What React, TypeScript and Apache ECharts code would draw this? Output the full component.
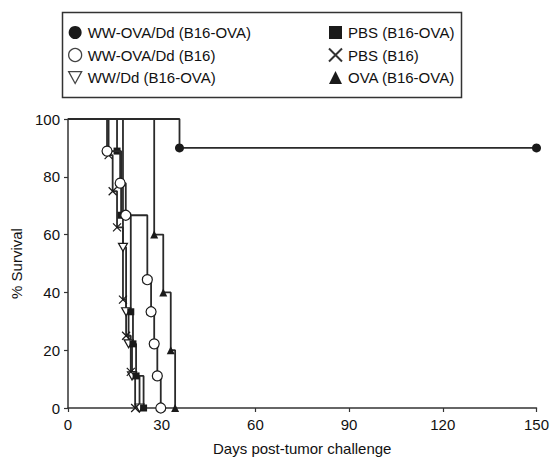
import React, { useEffect, useRef } from "react";
import * as echarts from "echarts";

// ---- data (days, % survival) ----
const wwOvaB16OvaDays = [0, 35.7, 150];
const wwOvaB16OvaSurv = [100, 90, 90];

const wwOvaB16Days = [0, 12.5, 16.7, 18.5, 25.4, 26.6, 27.6, 28.6, 29.7];
const wwOvaB16Surv = [100, 88.9, 77.8, 66.7, 44.4, 33.3, 22.2, 11.1, 0];

const wwDdDays = [0, 17.6, 18.6, 19.4, 20.5, 22.9];
const wwDdSurv = [100, 55.6, 33.3, 22.2, 11.1, 0];

const pbsB16OvaDays = [0, 15.7, 17.0, 20.1, 20.8, 21.8, 24.2];
const pbsB16OvaSurv = [100, 88.9, 66.7, 33.3, 22.2, 11.1, 0];

const pbsB16Days = [0, 13.0, 14.3, 15.7, 17.6, 18.6, 20.1, 21.5];
const pbsB16Surv = [100, 87.5, 75, 62.5, 37.5, 25, 12.5, 0];

const ovaDays = [0, 27.6, 30.5, 32.9, 34.3];
const ovaSurv = [100, 60, 40, 20, 0];

const seriesNames = [
  "WW-OVA/Dd (B16-OVA)",
  "WW-OVA/Dd (B16)",
  "WW/Dd (B16-OVA)",
  "PBS (B16-OVA)",
  "PBS (B16)",
  "OVA (B16-OVA)",
];

const xTicks = { min: 0, max: 150, interval: 30 };
const yTicks = { min: 0, max: 100, interval: 20 };

const FONT = "'Liberation Sans', Arial, Helvetica, sans-serif";
const INK = "#1a1a1a";
const LINE = "#2a2a2a";
const FS = 15;

const X_PATH = "path://M0,0L10,10M10,0L0,10";
const INV_TRI = "path://M0,0L12,0L6,11Z";

function toData(days: number[], surv: number[]) {
  return days.map((d, i) =>
    i === 0 ? { value: [d, surv[i]], symbol: "none" } : { value: [d, surv[i]] }
  );
}

export default function App() {
  const ref = useRef<HTMLDivElement>(null);

  useEffect(() => {
    if (!ref.current) return;
    const chart = echarts.init(ref.current, undefined, { renderer: "svg" });

    const base = (name: string, days: number[], surv: number[]) => ({
      name,
      type: "line",
      step: "end",
      data: toData(days, surv),
      clip: false,
      lineStyle: { color: LINE, width: 1.8 },
      emphasis: { disabled: true },
      z: 3,
    });

    const series: any[] = [
      {
        ...base(seriesNames[0], wwOvaB16OvaDays, wwOvaB16OvaSurv),
        symbol: "circle",
        symbolSize: 9,
        itemStyle: { color: INK },
      },
      {
        ...base(seriesNames[1], wwOvaB16Days, wwOvaB16Surv),
        symbol: "circle",
        symbolSize: 10,
        itemStyle: { color: "#fff", borderColor: INK, borderWidth: 1.2 },
        z: 4,
      },
      {
        ...base(seriesNames[2], wwDdDays, wwDdSurv),
        symbol: INV_TRI,
        symbolSize: [9, 8],
        itemStyle: { color: "#fff", borderColor: INK, borderWidth: 1.2 },
      },
      {
        ...base(seriesNames[3], pbsB16OvaDays, pbsB16OvaSurv),
        symbol: "rect",
        symbolSize: 7,
        itemStyle: { color: INK },
      },
      {
        ...base(seriesNames[4], pbsB16Days, pbsB16Surv),
        symbol: X_PATH,
        symbolSize: 8,
        itemStyle: { color: INK, borderColor: INK, borderWidth: 1.2 },
      },
      {
        ...base(seriesNames[5], ovaDays, ovaSurv),
        symbol: "triangle",
        symbolSize: 8,
        itemStyle: { color: INK },
      },
    ];

    const legendText = { fontSize: FS, color: "#111", fontFamily: FONT, padding: [0, 0, 0, 1] };

    const legendCommon = {
      orient: "vertical",
      top: 25,
      padding: 0,
      itemWidth: 13,
      itemHeight: 13,
      itemGap: 7.5,
      selectedMode: false,
      textStyle: legendText,
    };

    const option: any = {
      animation: false,
      backgroundColor: "#fff",
      grid: { left: 68, right: 14, top: 119, bottom: 47 },
      legend: [
        {
          ...legendCommon,
          left: 68,
          data: [
            { name: seriesNames[0], icon: "circle", itemStyle: { color: INK, borderWidth: 0 } },
            {
              name: seriesNames[1],
              icon: "circle",
              itemStyle: { color: "#fff", borderColor: "#444", borderWidth: 1.3 },
            },
            {
              name: seriesNames[2],
              icon: INV_TRI,
              itemStyle: { color: "#fff", borderColor: "#444", borderWidth: 1.3 },
            },
          ],
        },
        {
          ...legendCommon,
          left: 328,
          data: [
            { name: seriesNames[3], icon: "rect", itemStyle: { color: INK, borderWidth: 0 } },
            {
              name: seriesNames[4],
              icon: X_PATH,
              itemStyle: { color: INK, borderColor: "#333", borderWidth: 2 },
            },
            { name: seriesNames[5], icon: "triangle", itemStyle: { color: INK, borderWidth: 0 } },
          ],
        },
      ],
      graphic: [
        {
          type: "rect",
          shape: { x: 62.5, y: 12.5, width: 399, height: 85 },
          style: { fill: "none", stroke: "#333", lineWidth: 1.5 },
          silent: true,
        },
      ],
      xAxis: {
        type: "value",
        ...xTicks,
        name: "Days post-tumor challenge",
        nameLocation: "middle",
        nameGap: 33,
        nameTextStyle: { fontSize: FS, color: "#111", fontFamily: FONT },
        axisLine: { show: true, onZero: false, lineStyle: { color: "#333", width: 1.5 } },
        axisTick: { show: true, length: 4, lineStyle: { color: "#333", width: 1.2 } },
        axisLabel: { fontSize: FS, color: "#111", fontFamily: FONT, margin: 9 },
        splitLine: { show: false },
      },
      yAxis: {
        type: "value",
        ...yTicks,
        name: "% Survival",
        nameLocation: "middle",
        nameGap: 37,
        nameRotate: 90,
        nameTextStyle: { fontSize: FS, color: "#111", fontFamily: FONT },
        axisLine: { show: true, lineStyle: { color: "#333", width: 1.5 } },
        axisTick: { show: true, length: 4, lineStyle: { color: "#333", width: 1.2 } },
        axisLabel: { fontSize: FS, color: "#111", fontFamily: FONT, margin: 8 },
        splitLine: { show: false },
      },
      series,
    };

    chart.setOption(option);
    return () => chart.dispose();
  }, []);

  return (
    <div
      ref={ref}
      style={{ position: "fixed", left: 0, top: 0, width: 552, height: 461, background: "#fff" }}
    />
  );
}
